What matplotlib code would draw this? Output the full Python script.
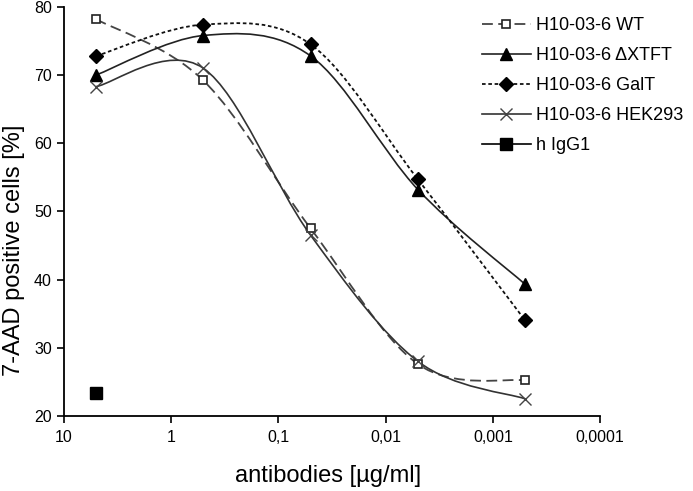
import numpy as np
import matplotlib.pyplot as plt
from matplotlib.path import Path
from matplotlib.patches import PathPatch
from matplotlib.lines import Line2D

plt.rcParams['font.family'] = ['Liberation Sans', 'DejaVu Sans']

# concentrations (µg/ml)
conc = [5, 0.5, 0.05, 0.005, 0.0005]
wt = [78.2, 69.2, 47.5, 27.6, 25.2]
dxtft = [70.0, 75.8, 72.8, 53.2, 39.3]
galt = [72.8, 77.4, 74.5, 54.7, 34.0]
hek = [68.3, 71.0, 46.5, 28.0, 22.5]
igg_conc = [5]
igg = [23.3]

xticks = [10, 1, 0.1, 0.01, 0.001, 0.0001]
xticklabels = ['10', '1', '0,1', '0,01', '0,001', '0,0001']
yticks = [20, 30, 40, 50, 60, 70, 80]


def smooth_path(x, y):
    # Excel-style smoothed line: Catmull-Rom bezier in (log x, y) space
    lx = np.log10(x)
    pts = np.column_stack([lx, y])
    n = len(pts)
    verts = [pts[0]]
    codes = [Path.MOVETO]
    for i in range(n - 1):
        p0 = pts[max(i - 1, 0)]
        p1 = pts[i]
        p2 = pts[i + 1]
        p3 = pts[min(i + 2, n - 1)]
        c1 = p1 + (p2 - p0) / 6
        c2 = p2 - (p3 - p1) / 6
        verts += [c1, c2, p2]
        codes += [Path.CURVE4] * 3
    verts = np.array(verts)
    verts[:, 0] = 10 ** verts[:, 0]
    return Path(verts, codes)


fig = plt.figure(figsize=(6.93, 4.91), dpi=100)
ax = fig.add_axes([0.092, 0.153, 0.774, 0.833])
ax.set_xscale('log')
ax.set_xlim(10, 0.0001)
ax.set_ylim(20, 80)

series = [
    (wt, dict(ls=(0, (6, 3)), color='#444444', lw=1.3), dict(marker='s', ms=6, mfc='white', mec='#222222', mew=1.2), 'H10-03-6 WT'),
    (dxtft, dict(ls='-', color='#222222', lw=1.2), dict(marker='^', ms=8.5, mfc='black', mec='black'), 'H10-03-6 \u0394XTFT'),
    (galt, dict(ls=(0, (2, 1.5)), color='#111111', lw=1.3), dict(marker='D', ms=7, mfc='black', mec='black'), 'H10-03-6 GalT'),
    (hek, dict(ls='-', color='#333333', lw=1.2), dict(marker='x', ms=9, mfc='none', mec='#444444', mew=1.0), 'H10-03-6 HEK293'),
]

handles = []
for vals, lstyle, mstyle, label in series:
    patch = PathPatch(smooth_path(conc, vals), fill=False, edgecolor=lstyle['color'],
                      lw=lstyle['lw'], linestyle=lstyle['ls'], zorder=2)
    ax.add_patch(patch)
    ax.plot(conc, vals, ls='none', zorder=3, **mstyle)
    handles.append(Line2D([], [], color=lstyle['color'], lw=lstyle['lw'], linestyle=lstyle['ls'], **mstyle))

ax.plot(igg_conc, igg, ls='none', marker='s', ms=9, color='black', zorder=3)
handles.append(Line2D([], [], color='black', lw=1.2, marker='s', ms=9))
labels = [s[3] for s in series] + ['h IgG1']

ax.set_xticks(xticks)
ax.set_xticklabels(xticklabels)
ax.minorticks_off()
ax.set_yticks(yticks)
ax.tick_params(direction='out', length=5, width=1.2, labelsize=11.5, colors='black')
ax.tick_params(axis='x', pad=5)
for s in ['top', 'right']:
    ax.spines[s].set_visible(False)
for s in ['left', 'bottom']:
    ax.spines[s].set_linewidth(1.3)

fig.text(0.474, 0.031, 'antibodies [\u00b5g/ml]', fontsize=17, ha='center', va='center')
fig.text(0.02, 0.49, '7-AAD positive cells [%]', fontsize=17, ha='center', va='center', rotation=90)

fig.legend(handles, labels, loc='upper left', bbox_to_anchor=(0.672, 0.998), frameon=False,
           fontsize=13, handlelength=2.7, handletextpad=0.3, labelspacing=0.72)

fig.savefig('out.png', dpi=100)
